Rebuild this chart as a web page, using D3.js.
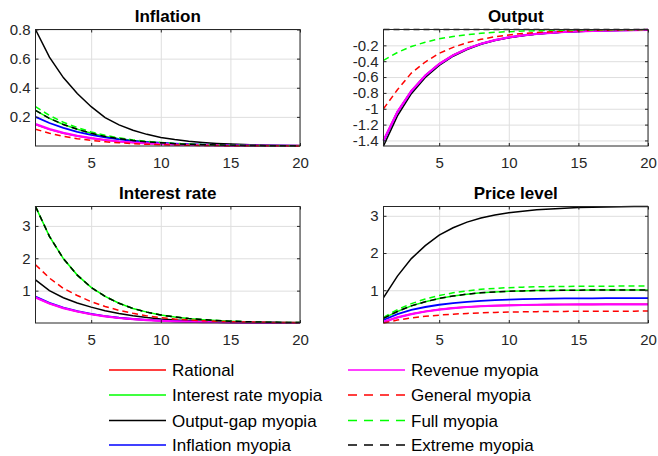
<!DOCTYPE html>
<html>
<head>
<meta charset="utf-8">
<script src="https://cdn.jsdelivr.net/npm/d3@7"></script>
<style>
  body { margin: 0; background: #fff; }
  svg { font-family: "Liberation Sans", Arial, sans-serif; }
  .grid line { stroke: #dedede; stroke-width: 1; }
  .grid path { display: none; }
  .axis path { display: none; }
  .axis line { stroke: #262626; }
  .axis text { fill: #262626; font-size: 15px; }
</style>
</head>
<body>
<div id="chart"></div>
<script>
// ---- data ----
var periods = [1, 2, 3, 4, 5, 6, 7, 8, 9, 10, 11, 12, 13, 14, 15, 16, 17, 18, 19, 20];
var xTicks = [5, 10, 15, 20];

var seriesNames = ["Rational", "Interest rate myopia", "Output-gap myopia", "Inflation myopia",
                   "Revenue myopia", "General myopia", "Full myopia", "Extreme myopia"];
var seriesColors = ["#ff0000", "#00ff00", "#000000", "#0000ff", "#ff00ff", "#ff0000", "#00ff00", "#000000"];
var seriesDashed = [false, false, false, false, false, true, true, true];

// Inflation
var infRational   = [0.148, 0.114, 0.088, 0.068, 0.053, 0.041, 0.031, 0.024, 0.018, 0.014, 0.011, 0.008, 0.006, 0.005, 0.004, 0.003, 0.002, 0.002, 0.001, 0.001];
var infInterest   = [0.245, 0.19, 0.148, 0.115, 0.087, 0.066, 0.05, 0.038, 0.029, 0.022, 0.016, 0.012, 0.009, 0.007, 0.005, 0.004, 0.003, 0.002, 0.002, 0.001];
var infOutputGap  = [0.8, 0.61, 0.47, 0.36, 0.27, 0.195, 0.145, 0.108, 0.08, 0.059, 0.044, 0.032, 0.024, 0.018, 0.013, 0.01, 0.007, 0.005, 0.004, 0.003];
var infInflation  = [0.2, 0.158, 0.124, 0.097, 0.076, 0.059, 0.045, 0.035, 0.027, 0.021, 0.016, 0.012, 0.009, 0.007, 0.005, 0.004, 0.003, 0.002, 0.002, 0.001];
var infRevenue    = [0.15, 0.116, 0.09, 0.07, 0.054, 0.041, 0.031, 0.024, 0.018, 0.014, 0.01, 0.008, 0.006, 0.004, 0.003, 0.002, 0.002, 0.001, 0.001, 0.001];
var infGeneral    = [0.115, 0.088, 0.066, 0.05, 0.038, 0.029, 0.022, 0.016, 0.012, 0.009, 0.007, 0.005, 0.004, 0.003, 0.002, 0.002, 0.001, 0.001, 0.001, 0.0];
var infFull       = [0.27, 0.21, 0.163, 0.127, 0.097, 0.074, 0.056, 0.042, 0.032, 0.024, 0.018, 0.013, 0.01, 0.007, 0.005, 0.004, 0.003, 0.002, 0.002, 0.001];
var infExtreme    = [0.245, 0.19, 0.148, 0.115, 0.087, 0.066, 0.05, 0.038, 0.029, 0.022, 0.016, 0.012, 0.009, 0.007, 0.005, 0.004, 0.003, 0.002, 0.002, 0.001];

// Output
var outRational   = [-1.4, -1.04, -0.775, -0.58, -0.435, -0.325, -0.242, -0.18, -0.134, -0.1, -0.075, -0.056, -0.042, -0.031, -0.023, -0.017, -0.013, -0.01, -0.007, -0.005];
var outInterest   = [-1.4, -1.04, -0.775, -0.58, -0.435, -0.325, -0.242, -0.18, -0.134, -0.1, -0.075, -0.056, -0.042, -0.031, -0.023, -0.017, -0.013, -0.01, -0.007, -0.005];
var outOutputGap  = [-1.47, -1.09, -0.81, -0.605, -0.452, -0.337, -0.252, -0.187, -0.14, -0.104, -0.078, -0.058, -0.043, -0.032, -0.024, -0.018, -0.013, -0.01, -0.007, -0.005];
var outInflation  = [-1.41, -1.045, -0.78, -0.583, -0.437, -0.327, -0.243, -0.181, -0.135, -0.1, -0.075, -0.056, -0.042, -0.031, -0.023, -0.017, -0.013, -0.01, -0.007, -0.005];
var outRevenue    = [-1.4, -1.04, -0.775, -0.58, -0.435, -0.325, -0.242, -0.18, -0.134, -0.1, -0.075, -0.056, -0.042, -0.031, -0.023, -0.017, -0.013, -0.01, -0.007, -0.005];
var outGeneral    = [-1.0, -0.76, -0.55, -0.41, -0.30, -0.225, -0.167, -0.124, -0.092, -0.068, -0.05, -0.037, -0.028, -0.021, -0.015, -0.011, -0.008, -0.006, -0.005, -0.003];
var outFull       = [-0.39, -0.29, -0.215, -0.16, -0.118, -0.088, -0.065, -0.048, -0.036, -0.027, -0.02, -0.015, -0.011, -0.008, -0.006, -0.005, -0.003, -0.003, -0.002, -0.001];
var outExtreme    = [0, 0, 0, 0, 0, 0, 0, 0, 0, 0, 0, 0, 0, 0, 0, 0, 0, 0, 0, 0];

// Interest rate
var intRational   = [0.79, 0.6, 0.46, 0.355, 0.27, 0.205, 0.155, 0.118, 0.09, 0.068, 0.052, 0.04, 0.03, 0.023, 0.017, 0.013, 0.01, 0.007, 0.005, 0.004];
var intInterest   = [3.6, 2.68, 1.99, 1.48, 1.1, 0.82, 0.61, 0.45, 0.336, 0.25, 0.186, 0.138, 0.103, 0.077, 0.057, 0.042, 0.031, 0.023, 0.017, 0.013];
var intOutputGap  = [1.33, 1.0, 0.78, 0.62, 0.49, 0.38, 0.295, 0.225, 0.17, 0.125, 0.094, 0.07, 0.052, 0.039, 0.029, 0.022, 0.016, 0.012, 0.009, 0.007];
var intInflation  = [0.82, 0.625, 0.478, 0.366, 0.28, 0.213, 0.162, 0.123, 0.094, 0.071, 0.054, 0.041, 0.031, 0.024, 0.018, 0.014, 0.01, 0.008, 0.006, 0.004];
var intRevenue    = [0.79, 0.6, 0.46, 0.355, 0.27, 0.205, 0.155, 0.118, 0.09, 0.068, 0.052, 0.04, 0.03, 0.023, 0.017, 0.013, 0.01, 0.007, 0.005, 0.004];
var intGeneral    = [1.8, 1.39, 1.07, 0.85, 0.66, 0.51, 0.39, 0.30, 0.22, 0.165, 0.125, 0.095, 0.072, 0.055, 0.042, 0.032, 0.024, 0.018, 0.014, 0.01];
var intFull       = [3.6, 2.68, 1.99, 1.48, 1.1, 0.82, 0.61, 0.45, 0.336, 0.25, 0.186, 0.138, 0.103, 0.077, 0.057, 0.042, 0.031, 0.023, 0.017, 0.013];
var intExtreme    = [3.6, 2.68, 1.99, 1.48, 1.1, 0.82, 0.61, 0.45, 0.336, 0.25, 0.186, 0.138, 0.103, 0.077, 0.057, 0.042, 0.031, 0.023, 0.017, 0.013];

// Price level
var prcRational   = [0.15, 0.27, 0.36, 0.43, 0.48, 0.52, 0.55, 0.57, 0.585, 0.596, 0.604, 0.61, 0.614, 0.617, 0.619, 0.62, 0.621, 0.622, 0.622, 0.622];
var prcInterest   = [0.245, 0.43, 0.58, 0.69, 0.78, 0.845, 0.895, 0.93, 0.955, 0.972, 0.983, 0.991, 0.996, 1.0, 1.003, 1.005, 1.006, 1.007, 1.008, 1.008];
var prcOutputGap  = [0.8, 1.38, 1.85, 2.2, 2.48, 2.68, 2.83, 2.94, 3.02, 3.08, 3.125, 3.16, 3.185, 3.205, 3.22, 3.23, 3.238, 3.244, 3.248, 3.25];
var prcInflation  = [0.2, 0.36, 0.47, 0.55, 0.61, 0.655, 0.69, 0.716, 0.735, 0.75, 0.761, 0.769, 0.775, 0.779, 0.782, 0.784, 0.786, 0.787, 0.788, 0.789];
var prcRevenue    = [0.15, 0.27, 0.36, 0.43, 0.48, 0.52, 0.55, 0.57, 0.585, 0.596, 0.604, 0.61, 0.614, 0.617, 0.619, 0.62, 0.621, 0.622, 0.622, 0.622];
var prcGeneral    = [0.12, 0.2, 0.258, 0.3, 0.332, 0.357, 0.377, 0.392, 0.404, 0.413, 0.42, 0.425, 0.429, 0.432, 0.434, 0.436, 0.437, 0.438, 0.439, 0.44];
var prcFull       = [0.27, 0.48, 0.64, 0.765, 0.86, 0.93, 0.985, 1.025, 1.05, 1.07, 1.083, 1.092, 1.098, 1.103, 1.106, 1.108, 1.11, 1.111, 1.112, 1.112];
var prcExtreme    = [0.245, 0.43, 0.58, 0.69, 0.78, 0.845, 0.895, 0.93, 0.955, 0.972, 0.983, 0.991, 0.996, 1.0, 1.003, 1.005, 1.006, 1.007, 1.008, 1.008];

// panel setup (titles, y ranges, y ticks)
var panels = [
  { title: "Inflation", left: 35.5, top: 29.5, domain: [0, 0.8], ticks: [0.2, 0.4, 0.6, 0.8],
    series: [infRational, infInterest, infOutputGap, infInflation, infRevenue, infGeneral, infFull, infExtreme] },
  { title: "Output", left: 383.5, top: 29.5, domain: [-1.47, 0], ticks: [-1.4, -1.2, -1, -0.8, -0.6, -0.4, -0.2],
    series: [outRational, outInterest, outOutputGap, outInflation, outRevenue, outGeneral, outFull, outExtreme] },
  { title: "Interest rate", left: 35.5, top: 206.5, domain: [0, 3.6], ticks: [1, 2, 3],
    series: [intRational, intInterest, intOutputGap, intInflation, intRevenue, intGeneral, intFull, intExtreme] },
  { title: "Price level", left: 383.5, top: 206.5, domain: [0.12, 3.25], ticks: [1, 2, 3],
    series: [prcRational, prcInterest, prcOutputGap, prcInflation, prcRevenue, prcGeneral, prcFull, prcExtreme] }
];

var width = 658, height = 456;
var pw = 264.5, ph = 116.5;   // plot box size

// plain labels like "-0.2" and "3" (no trailing zeros, ascii minus)
var plainFormat = function(d) { return String(d); };

var svg = d3.select("#chart").append("svg")
  .attr("width", width)
  .attr("height", height);

function drawPanel(p) {
  var g = svg.append("g")
    .attr("transform", "translate(" + p.left + "," + p.top + ")");

  var x = d3.scaleLinear().domain([1, 20]).range([0, pw]);
  var y = d3.scaleLinear().domain(p.domain).range([ph, 0]);

  // grid lines
  g.append("g")
    .attr("class", "grid")
    .attr("transform", "translate(0," + ph + ")")
    .call(d3.axisBottom(x).tickValues(xTicks).tickSize(-ph).tickFormat(""));
  g.append("g")
    .attr("class", "grid")
    .call(d3.axisLeft(y).tickValues(p.ticks).tickSize(-pw).tickFormat(""));

  // the lines, in legend order
  var line = d3.line()
    .x(function(d, i) { return x(periods[i]); })
    .y(function(d) { return y(d); });

  p.series.forEach(function(vals, k) {
    g.append("path")
      .datum(vals)
      .attr("fill", "none")
      .attr("stroke", seriesColors[k])
      .attr("stroke-width", k == 4 ? 2.2 : (k == 3 ? 1.8 : 1.5))
      .attr("stroke-dasharray", seriesDashed[k] ? "6,4" : null)
      .attr("d", line);
  });

  // axes, ticks pointing inward
  g.append("g")
    .attr("class", "axis")
    .attr("transform", "translate(0," + ph + ")")
    .call(d3.axisBottom(x).tickValues(xTicks).tickFormat(plainFormat)
      .tickSizeInner(-3).tickSizeOuter(0).tickPadding(11));
  g.append("g")
    .attr("class", "axis")
    .call(d3.axisLeft(y).tickValues(p.ticks).tickFormat(plainFormat)
      .tickSizeInner(-3).tickSizeOuter(0).tickPadding(5));
  g.append("g")
    .attr("class", "axis")
    .call(d3.axisTop(x).tickValues(xTicks).tickSizeInner(-3).tickSizeOuter(0).tickFormat(""));
  g.append("g")
    .attr("class", "axis")
    .attr("transform", "translate(" + pw + ",0)")
    .call(d3.axisRight(y).tickValues(p.ticks).tickSizeInner(-3).tickSizeOuter(0).tickFormat(""));

  // box
  g.append("rect")
    .attr("width", pw)
    .attr("height", ph)
    .attr("fill", "none")
    .attr("stroke", "#262626")
    .attr("stroke-width", 1);

  // title
  g.append("text")
    .attr("x", pw / 2)
    .attr("y", -7.5)
    .attr("text-anchor", "middle")
    .style("font-size", "17px")
    .style("font-weight", "bold")
    .attr("fill", "#000")
    .text(p.title);
}

panels.forEach(drawPanel);

// legend, two columns of four
var legend = svg.append("g").attr("class", "legend");
var legCols = [109, 348];
var legRows = [370, 395, 420.5, 445];

seriesNames.forEach(function(name, k) {
  var cx = legCols[Math.floor(k / 4)];
  var cy = legRows[k % 4];
  legend.append("line")
    .attr("x1", cx).attr("x2", cx + 57)
    .attr("y1", cy).attr("y2", cy)
    .attr("stroke", seriesColors[k])
    .attr("stroke-width", 1.5)
    .attr("stroke-dasharray", seriesDashed[k] ? "9,7" : null);
  legend.append("text")
    .attr("x", cx + 63)
    .attr("y", cy + 6)
    .style("font-size", "17px")
    .attr("fill", "#000")
    .text(name);
});
</script>
</body>
</html>
